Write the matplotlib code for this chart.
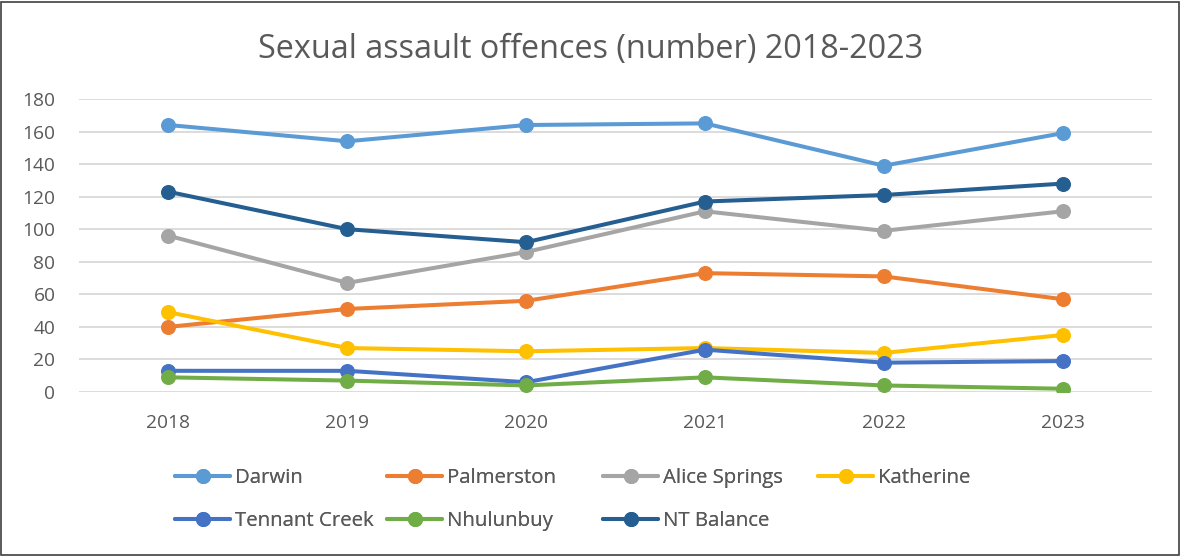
import matplotlib.pyplot as plt
from matplotlib.patches import Rectangle

years = ["2018", "2019", "2020", "2021", "2022", "2023"]

darwin = [164, 154, 164, 165, 139, 159]
palmerston = [40, 51, 56, 73, 71, 57]
alice_springs = [96, 67, 86, 111, 99, 111]
katherine = [49, 27, 25, 27, 24, 35]
tennant_creek = [13, 13, 6, 26, 18, 19]
nhulunbuy = [9, 7, 4, 9, 4, 2]
nt_balance = [123, 100, 92, 117, 121, 128]

series = [
    ("Darwin", darwin, "#5B9BD5"),
    ("Palmerston", palmerston, "#ED7D31"),
    ("Alice Springs", alice_springs, "#A5A5A5"),
    ("Katherine", katherine, "#FFC000"),
    ("Tennant Creek", tennant_creek, "#4472C4"),
    ("Nhulunbuy", nhulunbuy, "#70AD47"),
    ("NT Balance", nt_balance, "#255E91"),
]

plt.rcParams['font.family'] = ['Open Sans', 'DejaVu Sans']
GREY = "#595959"

fig = plt.figure(figsize=(11.81, 5.56), dpi=100)
ax = fig.add_axes([0.0669, 0.295, 0.9086, 0.527])

x = range(len(years))
lines = []
for name, vals, col in series:
    ln, = ax.plot(x, vals, color=col, linewidth=2.9, marker="o", markersize=9.8,
                  label=name, solid_capstyle="round")
    lines.append(ln)

ax.set_xlim(-0.5, len(years) - 0.5)
ax.set_ylim(0, 180)
ax.set_yticks(range(0, 181, 20))
ax.set_xticks(list(x))
ax.set_xticklabels(years)
ax.grid(axis="y", color="#D9D9D9", linewidth=1.3)
ax.set_axisbelow(True)
for s in ax.spines.values():
    s.set_visible(False)
ax.tick_params(length=0, labelsize=13.8, colors=GREY)
ax.tick_params(axis="y", pad=17)
ax.tick_params(axis="x", pad=16)

fig.text(0.5, 0.896, "Sexual assault offences (number) 2018-2023",
         ha="center", va="baseline", fontsize=23.3, color=GREY)

# legend laid out as a 4-column grid, row by row (like Excel)
col_x = [175, 387, 603, 818]
ncols = 4
for c in range(ncols):
    idx = list(range(c, len(lines), ncols))
    leg = fig.legend([lines[i] for i in idx], [series[i][0] for i in idx],
                     loc="upper left", bbox_to_anchor=(col_x[c] / 1181, 1 - 468 / 556),
                     frameon=False, fontsize=14.7, handlelength=2.7,
                     handletextpad=0.25, labelspacing=1.15, borderpad=0,
                     borderaxespad=0, labelcolor=GREY)
    fig.add_artist(leg)

fig.patches.append(Rectangle((0.001, 0.002), 0.997, 0.995, transform=fig.transFigure,
                             fill=False, edgecolor="#404040", linewidth=1.2))

fig.savefig("out.png", dpi=100)
